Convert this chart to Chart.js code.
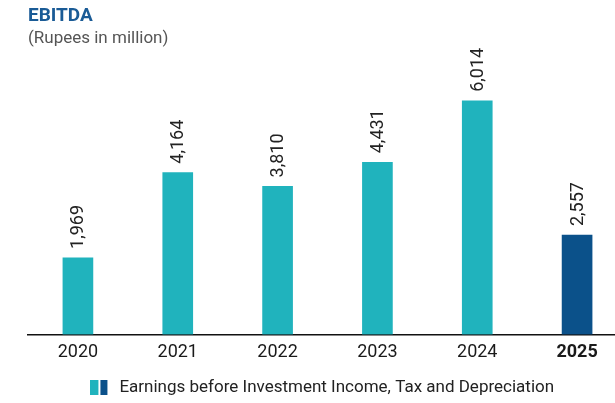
<!DOCTYPE html>
<html>
<head>
<meta charset="utf-8">
<script src="https://cdn.jsdelivr.net/npm/chart.js@4/dist/chart.umd.min.js"></script>
<style>
  html, body { margin: 0; padding: 0; background: #fff; overflow: hidden; }
  #wrap { position: relative; width: 627px; height: 403px; }
</style>
</head>
<body>
<div id="wrap"><canvas id="ebitdaChart"></canvas></div>
<script>
  // EBITDA, Rupees in million
  const years = ['2020', '2021', '2022', '2023', '2024', '2025'];
  const ebitda = [1969, 4164, 3810, 4431, 6014, 2557];
  const barColors = ['#20b3bd', '#20b3bd', '#20b3bd', '#20b3bd', '#20b3bd', '#0b518a'];
  const legendText = 'Earnings before Investment Income, Tax and Depreciation';

  const FONT = 'Roboto, "Noto Sans", sans-serif';

  // two small blocks used as the legend marker (right part left empty so it sits left of the text)
  const marker = document.createElement('canvas');
  marker.width = 31; marker.height = 15;
  (function(){
    const c = marker.getContext('2d');
    c.fillStyle = '#20b3bd'; c.fillRect(0, 0, 8, 15);
    c.fillStyle = '#0b518a'; c.fillRect(10, 0, 7, 15);
  })();

  const valueLabels = {
    id: 'valueLabels',
    afterDatasetsDraw(chart){
      const ctx = chart.ctx;
      const meta = chart.getDatasetMeta(0);
      ctx.save();
      ctx.font = '18px ' + FONT;
      ctx.fillStyle = '#222';
      ctx.textAlign = 'left';
      ctx.textBaseline = 'middle';
      meta.data.forEach((bar, i) => {
        ctx.save();
        ctx.translate(bar.x + 1, bar.y - 9);
        ctx.rotate(-Math.PI / 2);
        ctx.fillText(ebitda[i].toLocaleString('en-US'), 0, 0);
        ctx.restore();
      });
      ctx.restore();
    }
  };

  new Chart(document.getElementById('ebitdaChart'), {
    type: 'bar',
    data: {
      labels: years,
      datasets: [{ label: legendText, data: ebitda, backgroundColor: barColors, barThickness: 30 }]
    },
    options: {
      responsive: true,
      maintainAspectRatio: false,
      animation: false,
      layout: { padding: { left: 28, right: 0, top: 0, bottom: -3 } },
      plugins: {
        title: {
          display: true, text: 'EBITDA', align: 'start', color: '#1a5b96',
          font: { family: FONT, size: 19, weight: 'bold' }, padding: { top: 5, bottom: 0 }
        },
        subtitle: {
          display: true, text: '(Rupees in million)', align: 'start', color: '#555',
          font: { family: FONT, size: 17 }, padding: { top: 1, bottom: 11 }
        },
        legend: {
          position: 'bottom',
          labels: {
            usePointStyle: true, pointStyle: marker, boxWidth: 10, boxHeight: 15,
            color: '#222', font: { family: FONT, size: 17 }, padding: 2
          }
        },
        tooltip: { enabled: false }
      },
      scales: {
        x: {
          grid: { display: false },
          border: { display: true, color: '#111', width: 1.5 },
          ticks: {
            color: '#1a1a1a', padding: -1,
            font: ctx => ({ family: FONT, size: 18, weight: ctx.index === 5 ? 'bold' : 'normal' })
          },
          afterFit: scale => { scale.height += 15; }
        },
        y: { display: false, min: 0, max: 7059 }
      }
    },
    plugins: [valueLabels]
  });
</script>
</body>
</html>
